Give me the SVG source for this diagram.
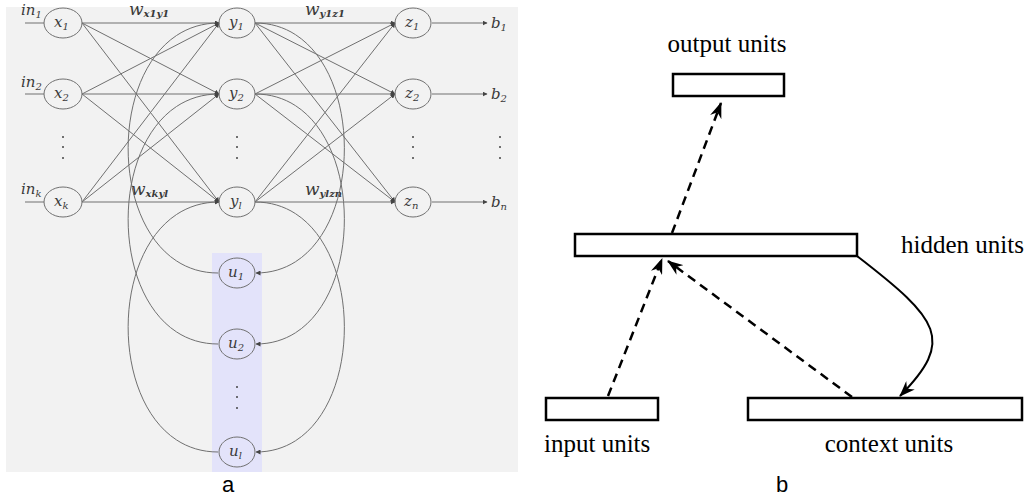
<svg xmlns="http://www.w3.org/2000/svg" width="1024" height="497" viewBox="0 0 1024 497">
<style>
.bg{fill:#f2f2f2}
.hl{fill:#e3e3fa}
.nd{fill:none;stroke:#707070;stroke-width:1}
.ln{fill:none;stroke:#707070;stroke-width:1}
.m{font-family:"DejaVu Serif","Liberation Serif",serif;font-style:italic;fill:#3a3a3a}
.nl{font-size:15px}
.wl{font-size:17px}
.sb{font-size:10px}
.dot{fill:#444}
.box{fill:#fff;stroke:#000;stroke-width:2.5}
.dash{fill:none;stroke:#000;stroke-width:2.5;stroke-dasharray:9 6}
.sol{fill:none;stroke:#000;stroke-width:2}
.tr{font-family:"Liberation Serif","Times New Roman",serif;font-size:25px;fill:#000}
.cap{font-family:"Liberation Sans",Arial,sans-serif;font-size:22px;fill:#000}
</style>
<defs>
<marker id="ta" viewBox="0 0 10 10" refX="9" refY="5" markerWidth="5" markerHeight="5" markerUnits="userSpaceOnUse" orient="auto">
<path d="M0,0 L10,5 L0,10 z" fill="#444"/>
</marker>
<marker id="st" viewBox="0 0 16 12" refX="15" refY="6" markerWidth="16" markerHeight="12" markerUnits="userSpaceOnUse" orient="auto">
<path d="M0,0 L16,6 L0,12 L5,6 z" fill="#000"/>
</marker>
</defs>
<rect class="bg" x="6" y="7" width="512" height="465"/>
<rect class="hl" x="212" y="253" width="50" height="219"/>
<g id="connectors">
<line class="ln" x1="25" y1="23" x2="44" y2="23"/>
<line class="ln" x1="25" y1="94" x2="44" y2="94"/>
<line class="ln" x1="25" y1="202" x2="44" y2="202"/>
<g marker-end="url(#ta)">
<line class="ln" x1="82" y1="23" x2="219" y2="23"/>
<line class="ln" x1="82" y1="23" x2="219" y2="94"/>
<line class="ln" x1="82" y1="23" x2="219" y2="202"/>
<line class="ln" x1="82" y1="94" x2="219" y2="23"/>
<line class="ln" x1="82" y1="94" x2="219" y2="94"/>
<line class="ln" x1="82" y1="94" x2="219" y2="202"/>
<line class="ln" x1="82" y1="202" x2="219" y2="23"/>
<line class="ln" x1="82" y1="202" x2="219" y2="94"/>
<line class="ln" x1="82" y1="202" x2="219" y2="202"/>
<line class="ln" x1="255" y1="23" x2="395" y2="23"/>
<line class="ln" x1="255" y1="23" x2="395" y2="94"/>
<line class="ln" x1="255" y1="23" x2="395" y2="202"/>
<line class="ln" x1="255" y1="94" x2="395" y2="23"/>
<line class="ln" x1="255" y1="94" x2="395" y2="94"/>
<line class="ln" x1="255" y1="94" x2="395" y2="202"/>
<line class="ln" x1="255" y1="202" x2="395" y2="23"/>
<line class="ln" x1="255" y1="202" x2="395" y2="94"/>
<line class="ln" x1="255" y1="202" x2="395" y2="202"/>
<line class="ln" x1="432" y1="23" x2="487" y2="23"/>
<line class="ln" x1="432" y1="94" x2="487" y2="94"/>
<line class="ln" x1="432" y1="202" x2="487" y2="202"/>
<path class="ln" d="M255,23 C374,23 374,273 256,273"/>
<path class="ln" d="M255,94 C374,94 374,344 256,344"/>
<path class="ln" d="M255,202 C374,202 374,452 256,452"/>
<path class="ln" d="M218,273 C98,273 98,23 219,23"/>
<path class="ln" d="M218,344 C98,344 98,94 219,94"/>
<path class="ln" d="M218,452 C98,452 98,202 219,202"/>
</g>
<path class="dash" d="M672,233 L721,103" marker-end="url(#st)"/>
<path class="dash" d="M608,396 L662,259" marker-end="url(#st)"/>
<path class="dash" d="M852,397 L668,261" marker-end="url(#st)"/>
<path class="sol" d="M857,256 C940,320 955,340 900,396" marker-end="url(#st)"/>
</g>
<g id="x1"><ellipse class="nd" cx="63" cy="23" rx="19" ry="15"/><text class="m nl" x="54" y="27">x<tspan class="sb" dy="3">1</tspan></text></g>
<g id="x2"><ellipse class="nd" cx="63" cy="94" rx="19" ry="15"/><text class="m nl" x="54" y="98">x<tspan class="sb" dy="3">2</tspan></text></g>
<g id="xk"><ellipse class="nd" cx="63" cy="202" rx="19" ry="15"/><text class="m nl" x="54" y="206">x<tspan class="sb" dy="3">k</tspan></text></g>
<g id="y1"><ellipse class="nd" cx="237" cy="23" rx="18" ry="15"/><text class="m nl" x="229" y="27">y<tspan class="sb" dy="3">1</tspan></text></g>
<g id="y2"><ellipse class="nd" cx="237" cy="94" rx="18" ry="15"/><text class="m nl" x="229" y="98">y<tspan class="sb" dy="3">2</tspan></text></g>
<g id="yl"><ellipse class="nd" cx="237" cy="202" rx="18" ry="15"/><text class="m nl" x="230" y="206">y<tspan class="sb" dy="3">l</tspan></text></g>
<g id="z1"><ellipse class="nd" cx="413" cy="23" rx="18" ry="15"/><text class="m nl" x="405" y="27">z<tspan class="sb" dy="3">1</tspan></text></g>
<g id="z2"><ellipse class="nd" cx="413" cy="94" rx="18" ry="15"/><text class="m nl" x="405" y="98">z<tspan class="sb" dy="3">2</tspan></text></g>
<g id="zn"><ellipse class="nd" cx="413" cy="202" rx="18" ry="15"/><text class="m nl" x="404" y="206">z<tspan class="sb" dy="3">n</tspan></text></g>
<g id="u1"><ellipse class="nd" cx="237" cy="273" rx="18" ry="15"/><text class="m nl" x="228" y="277">u<tspan class="sb" dy="3">1</tspan></text></g>
<g id="u2"><ellipse class="nd" cx="237" cy="344" rx="18" ry="15"/><text class="m nl" x="228" y="348">u<tspan class="sb" dy="3">2</tspan></text></g>
<g id="ul"><ellipse class="nd" cx="237" cy="452" rx="18" ry="15"/><text class="m nl" x="229" y="456">u<tspan class="sb" dy="3">l</tspan></text></g>
<g id="labels-a">
<text class="m nl" x="21" y="15">in<tspan class="sb" dy="3">1</tspan></text>
<text class="m nl" x="21" y="87">in<tspan class="sb" dy="3">2</tspan></text>
<text class="m nl" x="21" y="194">in<tspan class="sb" dy="3">k</tspan></text>
<text class="m wl" x="129" y="15">w<tspan class="sb" dy="2" font-weight="bold">x1y1</tspan></text>
<text class="m wl" x="131" y="195">w<tspan class="sb" dy="2" font-weight="bold">xkyl</tspan></text>
<text class="m wl" x="305" y="15">w<tspan class="sb" dy="2" font-weight="bold">y1z1</tspan></text>
<text class="m wl" x="305" y="195">w<tspan class="sb" dy="2" font-weight="bold">ylzn</tspan></text>
<text class="m nl" x="491" y="28">b<tspan class="sb" dy="3">1</tspan></text>
<text class="m nl" x="491" y="99">b<tspan class="sb" dy="3">2</tspan></text>
<text class="m nl" x="491" y="207">b<tspan class="sb" dy="3">n</tspan></text>
<g class="dot">
<circle cx="63" cy="137" r="1"/><circle cx="63" cy="147" r="1"/><circle cx="63" cy="158" r="1"/>
<circle cx="237" cy="137" r="1"/><circle cx="237" cy="147" r="1"/><circle cx="237" cy="158" r="1"/>
<circle cx="413" cy="137" r="1"/><circle cx="413" cy="147" r="1"/><circle cx="413" cy="158" r="1"/>
<circle cx="500" cy="137" r="1"/><circle cx="500" cy="147" r="1"/><circle cx="500" cy="158" r="1"/>
<circle cx="237" cy="387" r="1"/><circle cx="237" cy="397" r="1"/><circle cx="237" cy="408" r="1"/>
</g>
<text class="cap" x="228" y="492" text-anchor="middle">a</text>
</g>
<g id="output"><rect class="box" x="673" y="74" width="111" height="22"/><text class="tr" x="727" y="52" text-anchor="middle">output units</text></g>
<g id="hidden"><rect class="box" x="575" y="234" width="282" height="22"/><text class="tr" x="901" y="253" font-size="24">hidden units</text></g>
<g id="input"><rect class="box" x="546" y="398" width="112" height="22"/><text class="tr" x="544" y="452">input units</text></g>
<g id="context"><rect class="box" x="748" y="398" width="274" height="22"/><text class="tr" x="889" y="452" text-anchor="middle">context units</text></g>
<text class="cap" x="782" y="492" text-anchor="middle">b</text>
</svg>
